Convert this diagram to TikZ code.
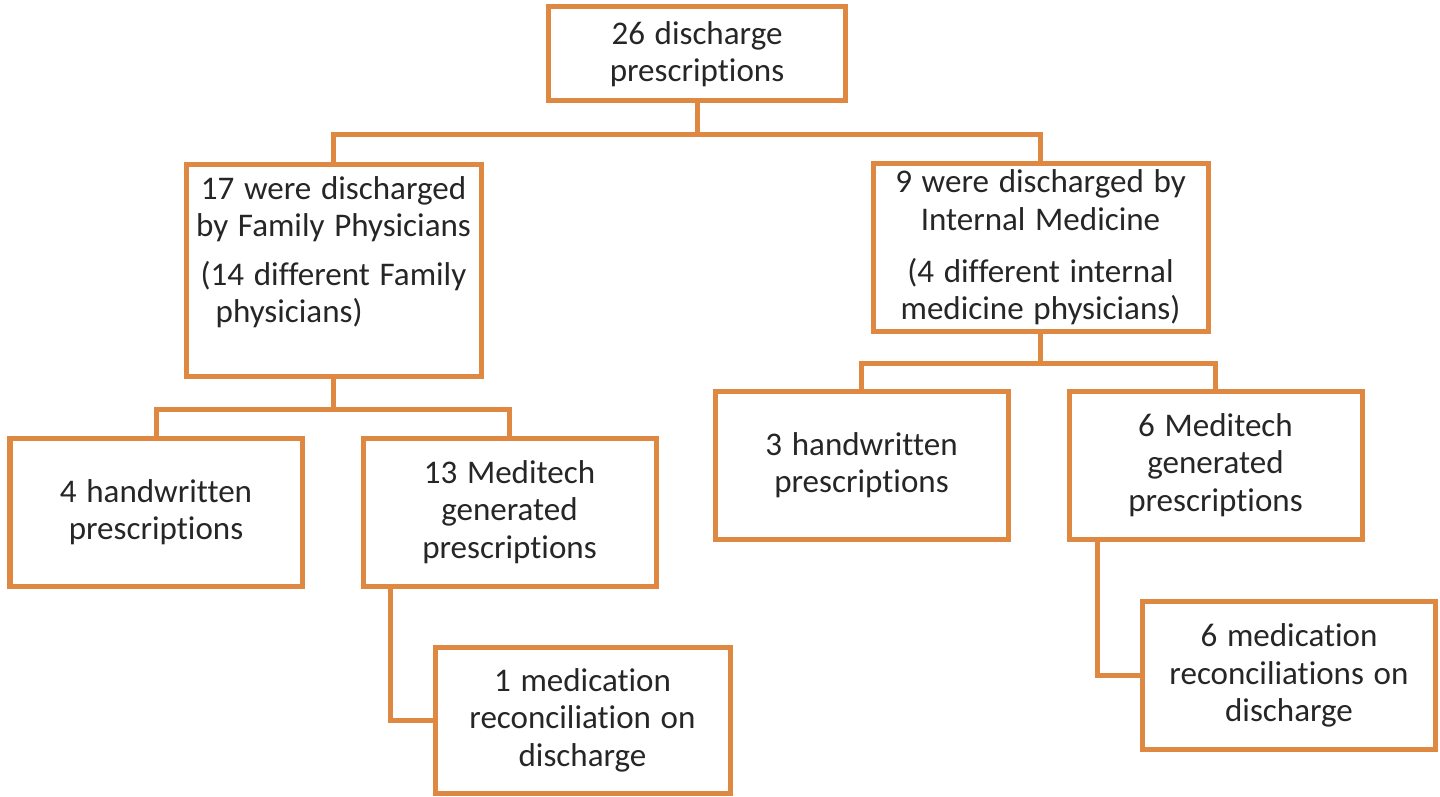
\documentclass[tikz,border=0pt]{standalone}
\usepackage{fontspec}
\setmainfont{Carlito}[Ligatures={NoCommon}, WordSpace=1.3]
\usepackage{xcolor}
\definecolor{boxorange}{RGB}{222,136,66}
\definecolor{boxtext}{RGB}{38,38,38}

\tikzset{
  flowbox/.style={draw=boxorange, line width=0.1cm, fill=white, rectangle,
    minimum width=5.88cm, minimum height=2.96cm, align=center, text=boxtext,
    font=\fontsize{18.8}{21.3}\selectfont},
  link/.style={draw=boxorange, line width=0.1cm}
}

\begin{document}
\begin{tikzpicture}
            \useasboundingbox (0,0) rectangle (28.8,15.92);

            % Top box
            \node[flowbox, minimum width=5.94cm, minimum height=1.88cm] (total) at (13.94, 14.84) {26 discharge\\prescriptions};

            % Second level
            \node[flowbox, minimum width=5.9cm, minimum height=4.22cm] (fam) at (6.67, 10.51) {};
            \node[anchor=north, align=center, text=boxtext, inner sep=0pt, font=\fontsize{18.8}{21.3}\selectfont] (famtext) at ([yshift=-0.27cm]fam.north) {17 were discharged\\by Family Physicians\\[0.3cm]\begin{tabular}{@{}l@{}}(14 different Family\\\hspace*{0.3cm}physicians)\end{tabular}};

            \node[flowbox, minimum width=6.7cm, minimum height=3.3cm] (intm) at (20.81, 10.97) {9 were discharged by\\Internal Medicine\\[0.3cm](4 different internal\\medicine physicians)};

            % Third level
            \node[flowbox, minimum width=5.84cm] (famhand) at (3.12, 5.68) {4 handwritten\\prescriptions};
            \node[flowbox, minimum width=5.86cm] (fammedi) at (10.19, 5.68) {13 Meditech\\generated\\prescriptions};

            \node[flowbox, minimum width=5.86cm] (intmhand) at (17.23, 6.62) {3 handwritten\\prescriptions};
            \node[flowbox, minimum width=5.86cm] (intmmedi) at (24.31, 6.62) {6 Meditech\\generated\\prescriptions};

            % Reconciliations
            \node[flowbox, minimum width=5.9cm, minimum height=2.92cm] (famrec) at (11.65, 1.52) {1 medication\\reconciliation on\\discharge};
            \node[flowbox, minimum width=5.86cm] (intmrec) at (25.78, 2.41) {6 medication\\reconciliations on\\discharge};

            % Connectors
            \draw[link] (total.south) -- ++(0,-0.62) -| (fam.north);
            \draw[link] (total.south) -- ++(0,-0.62) -| (intm.north);

            \draw[link] (fam.south) -- ++(0,-0.62) -| (famhand.north);
            \draw[link] (fam.south) -- ++(0,-0.62) -| (fammedi.north);

            \draw[link] (intm.south) -- ++(0,-0.6) -| (intmhand.north);
            \draw[link] (intm.south) -- ++(0,-0.6) -| (intmmedi.north);

            \draw[link] ([xshift=0.6cm]fammedi.south west) |- (famrec.west);
            \draw[link] ([xshift=0.62cm]intmmedi.south west) |- (intmrec.west);
        \end{tikzpicture}
\end{document}
